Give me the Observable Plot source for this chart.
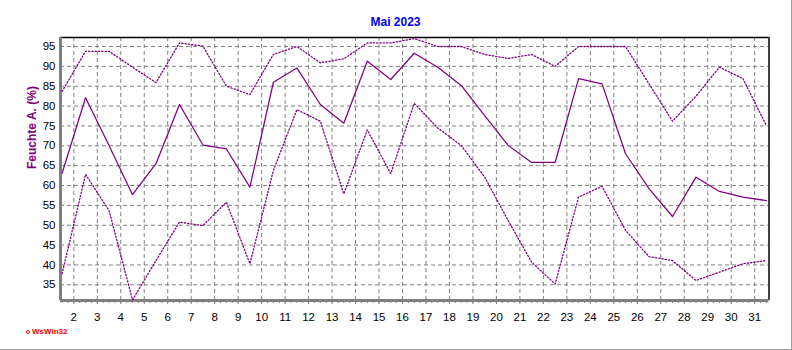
<!DOCTYPE html>
<html>
<head>
<meta charset="utf-8">
<script src="https://cdn.jsdelivr.net/npm/d3@7"></script>
<script src="https://cdn.jsdelivr.net/npm/@observablehq/plot@0.6"></script>
<style>
  html, body { margin: 0; padding: 0; background: #fff; }
  #wrap { position: relative; width: 791px; height: 349px; border-right: 1px solid #a0a0a0; border-bottom: 1px solid #a0a0a0; background: #fff; font-family: "Liberation Sans", Arial, sans-serif; }
  #title { height: 30px; box-sizing: border-box; padding-top: 15px; text-align: center; font-size: 12px; line-height: 14px; font-weight: bold; color: #0000ff; }
  #logo { position: absolute; left: 26px; top: 327px; font-size: 8px; font-weight: bold; color: #ff0000; line-height: 10px; }
  #logo span.dot { display: inline-block; width: 2px; height: 2px; border: 1.5px solid #ff0000; border-radius: 50%; margin-right: 2px; vertical-align: 0px; }
  svg { display: block; }
</style>
</head>
<body>
<div id="wrap">
  <div id="title">Mai 2023</div>
  <div id="chart"></div>
  <div id="logo"><span class="dot"></span>WsWin32</div>
</div>
<script>
const days = [1,2,3,4,5,6,7,8,9,10,11,12,13,14,15,16,17,18,19,20,21,22,23,24,25,26,27,28,29,30,31];
const meanHum = [63.1, 82.1, 70.1, 57.7, 65.5, 80.4, 70.2, 69.2, 59.6, 86.0, 89.6, 80.4, 75.7, 91.3, 86.7, 93.3, 89.8, 85.2, 77.6, 70.1, 65.8, 65.8, 86.9, 85.6, 68.0, 59.2, 52.2, 62.1, 58.5, 57.1, 56.2];
const maxHum = [83.7, 93.8, 93.8, 89.8, 85.9, 95.9, 95.1, 85.0, 82.9, 93.0, 95.0, 90.9, 91.9, 95.9, 95.9, 97.0, 95.0, 95.0, 93.0, 92.0, 93.0, 90.0, 95.0, 95.0, 95.0, 85.6, 76.2, 82.5, 89.8, 86.9, 75.1];
const minHum = [37.8, 62.8, 53.7, 31.2, 41.1, 50.8, 49.9, 55.8, 40.3, 63.8, 79.1, 76.2, 57.9, 74.0, 63.0, 80.7, 74.5, 70.1, 62.1, 51.2, 40.7, 35.2, 57.1, 59.8, 48.7, 42.1, 41.1, 36.1, 38.2, 40.3, 41.1];
const xTickLabels = [2,3,4,5,6,7,8,9,10,11,12,13,14,15,16,17,18,19,20,21,22,23,24,25,26,27,28,29,30,31];
const yTickLabels = [35,40,45,50,55,60,65,70,75,80,85,90,95];
const yLabel = "Feuchte A. (%)";

const data = days.map((d, i) => ({day: d, mean: meanHum[i], max: maxHum[i], min: minHum[i]}));
const xDomain = [1.433, 31.61];
const yDomain = [31.05, 97.27];
const quarterTicks = d3.range(1.5, 31.6, 0.25);
const purple = "#800080";
const grid = "#808080";

const chart = Plot.plot({
  width: 791,
  height: 319,
  marginLeft: 60,
  marginRight: 22.5,
  marginTop: 7,
  marginBottom: 49,
  style: {fontFamily: "'Liberation Sans', Arial, sans-serif", fontSize: "11.5px", color: "#000", background: "#fff"},
  x: {domain: xDomain},
  y: {domain: yDomain},
  marks: [
    Plot.gridX(xTickLabels, {stroke: grid, strokeOpacity: 1, strokeDasharray: "4,3"}),
    Plot.gridY(yTickLabels, {stroke: grid, strokeOpacity: 1, strokeDasharray: "4,3"}),
    Plot.ruleY([yDomain[1]], {stroke: "#000", strokeWidth: 1.5}),
    Plot.ruleX([xDomain[1]], {stroke: "#000", strokeWidth: 1.5}),
    Plot.axisX({ticks: quarterTicks, tickSize: 3, tickFormat: () => "", stroke: grid, label: null}),
    Plot.axisX({ticks: xTickLabels, tickSize: 4, tickPadding: 8, stroke: grid, fill: "#000", label: null, tickFormat: d => String(d)}),
    Plot.axisY({ticks: yTickLabels, tickSize: 0, tickPadding: 5, fill: "#000", label: null}),
    Plot.ruleX([xDomain[0]], {stroke: grid, strokeWidth: 3}),
    Plot.ruleY([yDomain[0]], {stroke: grid, strokeWidth: 3}),
    Plot.line(data, {x: d => d.day + 0.5, y: "max", stroke: purple, strokeWidth: 1.3, strokeDasharray: "1.3,2", curve: "linear"}),
    Plot.line(data, {x: d => d.day + 0.5, y: "min", stroke: purple, strokeWidth: 1.3, strokeDasharray: "1.3,2", curve: "linear"}),
    Plot.line(data, {x: d => d.day + 0.5, y: "mean", stroke: purple, strokeWidth: 1.25, curve: "linear"}),
    Plot.text([yLabel], {text: d => d, frameAnchor: "left", dx: -28, rotate: -90, fill: purple, fontWeight: "bold", fontSize: 12})
  ]
});
document.getElementById("chart").appendChild(chart);
</script>
</body>
</html>
